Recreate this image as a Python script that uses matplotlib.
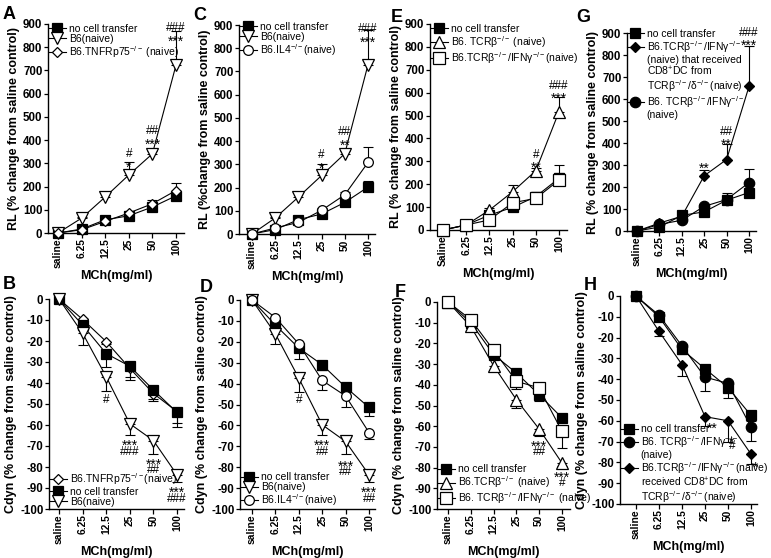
import numpy as np
import matplotlib
matplotlib.use('Agg')
import matplotlib.pyplot as plt
from matplotlib.lines import Line2D

plt.rcParams['font.family'] = ['Liberation Sans', 'DejaVu Sans']
plt.rcParams['mathtext.fontset'] = 'custom'
plt.rcParams['mathtext.rm'] = 'Liberation Sans'
plt.rcParams['mathtext.it'] = 'Liberation Sans:italic'
plt.rcParams['mathtext.bf'] = 'Liberation Sans:bold'
plt.rcParams['axes.unicode_minus'] = False

W, H = 771, 558

doses = ['saline', '6.25', '12.5', '25', '50', '100']
doses_cap = ['Saline', '6.25', '12.5', '25', '50', '100']

# ---- A: RL ----
a_none = [0, 17, 57, 74, 112, 160]
a_none_err = [0, 4, 8, 6, 12, 14]
a_b6 = [0, 64, 155, 250, 341, 723]
a_b6_err = [0, 6, 17, 55, 12, 145]
a_tnf = [0, 14, 50, 86, 126, 183]
a_tnf_err = [0, 4, 6, 8, 14, 32]

# ---- B: Cdyn ----
b_tnf = [0, -9.7, -20.3, -33, -45, -53.6]
b_tnf_err = [0, 1, 1, 4, 3.5, 5.5]
b_none = [0, -12.4, -26, -32, -43.3, -54]
b_none_err = [0, 2, 6.5, 6.5, 4.5, 7]
b_b6 = [0, -16.3, -37, -59.4, -67.4, -83.7]
b_b6_err = [0, 5.6, 7, 5.3, 6.3, 3.6]

# ---- C: RL ----
c_none = [0, 19, 62, 86, 136, 202]
c_none_err = [0, 4, 6, 8, 10, 25]
c_b6 = [0, 69, 159, 252, 346, 729]
c_b6_err = [0, 6, 17, 50, 12, 150]
c_il4 = [0, 26, 50, 102, 169, 308]
c_il4_err = [0, 4, 6, 8, 10, 65]

# ---- D: Cdyn ----
d_none = [0, -12, -23, -31, -41.7, -51.4]
d_none_err = [0, 2, 5, 2.5, 1.5, 4.3]
d_b6 = [0, -16.2, -37.4, -59.7, -67.7, -83.6]
d_b6_err = [0, 4.8, 6.4, 4.8, 5.9, 3.7]
d_il4 = [0, -8.4, -21, -38.5, -45.9, -63.4]
d_il4_err = [0, 1, 1.5, 4.8, 5.1, 3.2]

# ---- E: RL ----
e_none = [0, 22, 65, 99, 146, 226]
e_none_err = [0, 3, 6, 8, 20, 21]
e_tcr = [0, 22, 87, 167, 259, 517]
e_tcr_err = [0, 3, 8, 29, 10, 65]
e_ti = [0, 22, 44, 119, 138, 218]
e_ti_err = [0, 3, 6, 10, 12, 66]

# ---- F: Cdyn ----
f_none = [0, -10, -25.4, -34.3, -44.8, -56]
f_none_err = [0, 1.5, 2, 2, 3.2, 2]
f_tcr = [0, -11.8, -30.8, -47.2, -61.4, -77.8]
f_tcr_err = [0, 1, 2, 4, 3.5, 1.5]
f_ti = [0, -8.5, -23.3, -38.3, -41.5, -62.5]
f_ti_err = [0, 1, 1.5, 3.7, 2.5, 8]

# ---- G: RL ----
g_none = [0, 18, 71, 87, 140, 175]
g_none_err = [0, 4, 8, 10, 20, 12]
g_dc = [0, 36, 67, 251, 325, 657]
g_dc_err = [0, 5, 8, 26, 70, 182]
g_ti = [0, 30, 49, 112, 143, 220]
g_ti_err = [0, 4, 6, 12, 32, 64]

# ---- H: Cdyn ----
h_none = [0, -10, -25.7, -35, -44, -57.4]
h_none_err = [0, 1.5, 2, 2, 5, 2.5]
h_ti = [0, -9.2, -24, -39, -42, -63]
h_ti_err = [0, 1.5, 2, 6.7, 3, 6.5]
h_dc = [0, -17, -33, -58, -60, -76]
h_dc_err = [0, 2, 5.6, 4.7, 10, 4.7]

# significance marks: (dose index, y, text[, ha])
a_marks = [(3, 298, '*'), (3, 342, '#'), (4, 395, '***'), (4, 438, '##'),
           (5, 842, '***'), (5, 884, '###')]
b_marks = [(2, -48, '#'), (3, -68, '***'), (3, -73, '###'), (4, -77, '***'),
           (4, -81.5, '##'), (5, -90.5, '***'), (5, -95, '###')]
c_marks = [(3, 298, '*'), (3, 342, '#'), (4, 395, '**'), (4, 438, '##'),
           (5, 842, '***'), (5, 884, '###')]
d_marks = [(2, -48, '#'), (3, -68, '***'), (3, -72.5, '##'), (4, -78, '***'),
           (4, -82.5, '##'), (5, -90.5, '***'), (5, -95, '##')]
e_marks = [(4, 288, '**'), (4, 328, '#'), (5, 592, '***'), (5, 628, '###')]
f_marks = [(4, -68, '***'), (4, -72.5, '##'), (5, -83, '***'), (5, -87.5, '#')]
g_marks = [(3, 302, '**'), (4, 408, '**'), (4, 452, '##'),
           (5, 858, '***'), (5, 902, '###')]
h_marks = [(3.08, -62, '**', 'left'), (4.05, -68.5, '*', 'left'), (4.05, -72, '#', 'left'),
           (5.08, -80.5, '*', 'left')]

k = 'black'
sq_f = dict(marker='s', mfc=k, mec=k, ms=6.5)
tri_d = dict(marker='v', mfc='white', mec=k, ms=8)
tri_u = dict(marker='^', mfc='white', mec=k, ms=8)
dia_o = dict(marker='D', mfc='white', mec=k, ms=5.5)
dia_f = dict(marker='D', mfc=k, mec=k, ms=5.5)
cir_o = dict(marker='o', mfc='white', mec=k, ms=7)
cir_f = dict(marker='o', mfc=k, mec=k, ms=7.5)
sq_o = dict(marker='s', mfc='white', mec=k, ms=8)

fig = plt.figure(figsize=(W / 100, H / 100), dpi=100)


def panel(geom, letter, letter_xy, kind, xlabels, series, marks, leg, leg_xy, leg_loc, ylabel):
    l, r, t, b, x0, x5 = geom
    ax = fig.add_axes([l / W, 1 - b / H, (r - l) / W, (b - t) / H])
    unit = (x5 - x0) / 5.0
    ax.set_xlim((l - x0) / unit, (r - x0) / unit)
    x = np.arange(6)
    for vals, errs, st in series:
        errs = np.array(errs)
        z = np.zeros(6)
        yerr = [z, errs] if kind == 'RL' else [errs, z]
        ax.errorbar(x, vals, yerr=yerr, fmt='none', ecolor=k, elinewidth=0.8,
                    capsize=3.5, capthick=0.8, zorder=2, clip_on=False)
        ax.plot(x, vals, color=k, lw=0.8, mew=0.9, zorder=3, clip_on=False, **st)
    if kind == 'RL':
        ax.set_ylim(0, 900)
        ax.set_yticks(np.arange(0, 901, 100))
    else:
        ax.set_ylim(-100, 0)
        ax.set_yticks(np.arange(-100, 1, 10))
    ax.set_xticks(x)
    ax.set_xticklabels(xlabels, rotation=90)
    for sp in ['top', 'right']:
        ax.spines[sp].set_visible(False)
    for sp in ['left', 'bottom']:
        ax.spines[sp].set_linewidth(1.0)
    ax.tick_params(axis='y', direction='out', length=3, width=0.9, labelsize=8.3, pad=1)
    ax.tick_params(axis='x', direction='out', length=3.5, width=0.9, labelsize=7.4, pad=0.5)
    for lab in ax.get_xticklabels() + ax.get_yticklabels():
        lab.set_fontweight('bold')
    ax.set_ylabel(ylabel, fontsize=9, fontweight='bold', labelpad=2)
    ax.set_xlabel('MCh(mg/ml)', fontsize=9, fontweight='bold', labelpad=1)
    for m in marks:
        ha = m[3] if len(m) > 3 else 'center'
        if '*' in m[2]:
            fs, dy = 10, -2.8
        else:
            fs, dy = 8.5, 0
        ax.annotate(m[2], xy=(m[0], m[1]), xytext=(0, dy), textcoords='offset points',
                    ha=ha, va='center', fontsize=fs, annotation_clip=False)
    handles, labels = [], []
    for st, lab in leg:
        if st is None:
            handles.append(Line2D([], [], linestyle='none'))
        else:
            handles.append(Line2D([], [], color=k, lw=0.8, mew=0.9, **st))
        labels.append(lab)
    ax.legend(handles, labels, loc=leg_loc,
              bbox_to_anchor=(leg_xy[0] / W, 1 - leg_xy[1] / H),
              bbox_transform=fig.transFigure, frameon=False, borderpad=0,
              borderaxespad=0, handlelength=1.6, handletextpad=0.3,
              labelspacing=0.0, fontsize=7.5)
    fig.text(letter_xy[0] / W, 1 - letter_xy[1] / H, letter, fontsize=13,
             fontweight='bold', va='top', ha='left')
    return ax


rl_lab = 'RL (% change from saline control)'
cd_lab = 'Cdyn (% change from saline control)'
tnf = 'B6.TNFRp75$^{-/-}$ (naive)'
il4 = 'B6.IL4$^{-/-}$(naive)'

panel((48, 184, 24, 233, 58, 176), 'A', (3, 6), 'RL', doses,
      [(a_none, a_none_err, sq_f), (a_b6, a_b6_err, tri_d), (a_tnf, a_tnf_err, dia_o)],
      a_marks,
      [(sq_f, 'no cell transfer'), (tri_d, 'B6(naive)'), (dia_o, tnf)],
      (49, 24), 'upper left', rl_lab)

panel((49, 184, 299, 509, 59, 177), 'B', (3, 276), 'Cd', doses,
      [(b_tnf, b_tnf_err, dia_o), (b_none, b_none_err, sq_f), (b_b6, b_b6_err, tri_d)],
      b_marks,
      [(dia_o, 'B6.TNFRp75$^{-/-}$(naive)'), (sq_f, 'no cell transfer'), (tri_d, 'B6(naive)')],
      (50, 507), 'lower left', cd_lab)

panel((239, 375, 25, 234, 252, 368), 'C', (193, 7), 'RL', doses,
      [(c_none, c_none_err, sq_f), (c_b6, c_b6_err, tri_d), (c_il4, c_il4_err, cir_o)],
      c_marks,
      [(sq_f, 'no cell transfer'), (tri_d, 'B6(naive)'), (cir_o, il4)],
      (240, 22), 'upper left', 'RL (%change from saline control)')

panel((240, 375, 300, 509, 252, 369), 'D', (200, 279), 'Cd', doses,
      [(d_none, d_none_err, sq_f), (d_b6, d_b6_err, tri_d), (d_il4, d_il4_err, cir_o)],
      d_marks,
      [(sq_f, 'no cell transfer'), (tri_d, 'B6(naive)'), (cir_o, il4)],
      (241, 508), 'lower left', cd_lab)

panel((430, 567, 24, 230, 443, 559), 'E', (391, 9), 'RL', doses_cap,
      [(e_none, e_none_err, sq_f), (e_tcr, e_tcr_err, tri_u), (e_ti, e_ti_err, sq_o)],
      e_marks,
      [(sq_f, 'no cell transfer'), (tri_u, 'B6. TCRβ$^{-/-}$ (naive)'),
       (sq_o, 'B6.TCRβ$^{-/-}$/IFNγ$^{-/-}$(naive)')],
      (431, 24), 'upper left', rl_lab)

panel((437, 570, 302, 509, 448, 562), 'F', (395, 284), 'Cd', doses,
      [(f_none, f_none_err, sq_f), (f_tcr, f_tcr_err, tri_u), (f_ti, f_ti_err, sq_o)],
      f_marks,
      [(sq_f, 'no cell transfer'), (tri_u, 'B6.TCRβ$^{-/-}$ (naive)'),
       (sq_o, 'B6. TCRβ$^{-/-}$/IFNγ$^{-/-}$ (naive)')],
      (438, 506), 'lower left', cd_lab)

panel((627, 756, 33, 231, 637, 749), 'G', (576, 9), 'RL', doses,
      [(g_none, g_none_err, sq_f), (g_dc, g_dc_err, dia_f), (g_ti, g_ti_err, cir_f)],
      g_marks,
      [(sq_f, 'no cell transfer'), (dia_f, 'B6.TCRβ$^{-/-}$/IFNγ$^{-/-}$'),
       (None, '(naive) that received'), (None, 'CD8$^{+}$DC from'),
       (None, 'TCRβ$^{-/-}$/δ$^{-/-}$(naive)'),
       (cir_f, 'B6. TCRβ$^{-/-}$/IFNγ$^{-/-}$'), (None, '(naive)')],
      (627, 29), 'upper left', rl_lab)

panel((620, 757, 296, 504, 636, 751), 'H', (584, 277), 'Cd', doses,
      [(h_none, h_none_err, sq_f), (h_ti, h_ti_err, cir_f), (h_dc, h_dc_err, dia_f)],
      h_marks,
      [(sq_f, 'no cell transfer'), (cir_f, 'B6. TCRβ$^{-/-}$/IFNγ$^{-/-}$'),
       (None, '(naive)'), (dia_f, 'B6.TCRβ$^{-/-}$/IFNγ$^{-/-}$(naive)'),
       (None, 'received CD8$^{+}$DC from'), (None, 'TCRβ$^{-/-}$/δ$^{-/-}$(naive)')],
      (621, 505), 'lower left', cd_lab)

fig.savefig('out.png', dpi=100)
